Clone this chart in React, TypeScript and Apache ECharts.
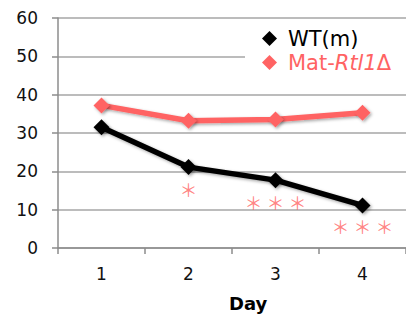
import React, { useEffect, useRef } from "react";
import * as echarts from "echarts";

const categories = ["1", "2", "3", "4"];
const wtValues = [31.5, 21.1, 17.7, 11.1];
const matValues = [37.2, 33.2, 33.5, 35.3];
const starLabels = ["", "＊", "＊ ＊ ＊", "＊ ＊ ＊"];
const starValues = [null, 15.4, 12, 5.7];

const RED = "#ff6363";

export default function App() {
  const ref = useRef<HTMLDivElement>(null);
  useEffect(() => {
    if (!ref.current) return;
    const chart = echarts.init(ref.current, null, { renderer: "svg" });
    const shadow = {
      shadowBlur: 3,
      shadowColor: "rgba(0,0,0,0.35)",
      shadowOffsetX: 1.5,
      shadowOffsetY: 1.5,
    };
    chart.setOption({
      animation: false,
      textStyle: { fontFamily: "DejaVu Sans" },
      grid: { left: 58, right: -5, top: 18, bottom: 72, containLabel: false },
      legend: {
        orient: "vertical",
        left: 245,
        top: 24,
        backgroundColor: "#ffffff",
        padding: [4, 20, 4, 17],
        itemGap: 3,
        itemWidth: 15,
        itemHeight: 15,
        textStyle: {
          fontSize: 21,
          fontFamily: "DejaVu Sans",
          padding: [0, 0, 0, 6],
          rich: {
            i: { fontStyle: "italic", color: RED, fontSize: 21, fontFamily: "DejaVu Sans" },
          },
        },
        data: [
          { name: "WT(m)", icon: "diamond", textStyle: { color: "#000" } },
          { name: "Mat", icon: "diamond", textStyle: { color: RED } },
        ],
        formatter: (n: string) => (n === "Mat" ? "Mat-{i|Rtl1}Δ" : n),
      },
      xAxis: {
        type: "category",
        data: categories,
        boundaryGap: true,
        axisLine: { lineStyle: { color: "#8c8c8c", width: 1.5 } },
        axisTick: { show: true, length: 6, lineStyle: { color: "#8c8c8c", width: 1.5 } },
        axisLabel: { fontSize: 17, color: "#111", margin: 17 },
      },
      yAxis: {
        type: "value",
        min: 0,
        max: 60,
        interval: 10,
        axisLine: { show: true, lineStyle: { color: "#8c8c8c", width: 1.5 } },
        axisTick: { show: true, length: 6, lineStyle: { color: "#8c8c8c", width: 1.5 } },
        splitLine: { lineStyle: { color: "#a6a6a6", width: 1.5 } },
        axisLabel: { fontSize: 17, color: "#111", margin: 20 },
      },
      graphic: [
        {
          type: "text",
          left: 229,
          top: 294,
          style: { text: "Day", fontSize: 18, fontWeight: "bold", fill: "#000", fontFamily: "DejaVu Sans" },
        },
      ],
      series: [
        {
          name: "WT(m)",
          type: "line",
          data: wtValues,
          symbol: "diamond",
          symbolSize: 16,
          lineStyle: { color: "#000", width: 5.5, ...shadow },
          itemStyle: { color: "#000", ...shadow },
          z: 3,
        },
        {
          name: "Mat",
          type: "line",
          data: matValues,
          symbol: "diamond",
          symbolSize: 16,
          lineStyle: { color: RED, width: 5.5, ...shadow },
          itemStyle: { color: RED, ...shadow },
          z: 2,
        },
        {
          name: "stars",
          type: "scatter",
          data: starValues.map((v, i) => (v === null ? null : [categories[i], v])),
          symbolSize: 0,
          silent: true,
          label: {
            show: true,
            position: "inside",
            formatter: (p: any) => starLabels[p.dataIndex],
            color: RED,
            fontSize: 18,
            fontFamily: "Noto Sans CJK JP",
          },
        },
      ],
    } as any);
    return () => chart.dispose();
  }, []);
  return <div ref={ref} style={{ width: 406, height: 320, position: "absolute", left: 0, top: 0 }} />;
}
